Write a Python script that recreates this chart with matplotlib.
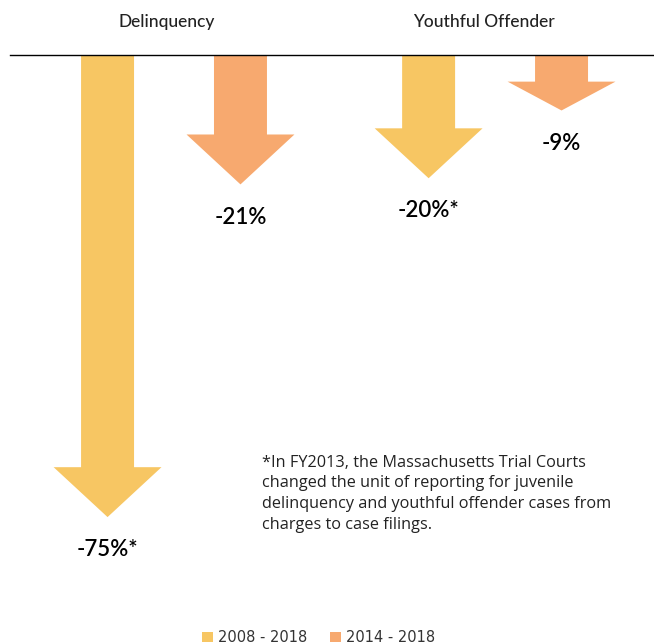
import matplotlib.pyplot as plt
from matplotlib.patches import Patch

# data
groups = ['Delinquency', 'Youthful Offender']
periods = ['2008 - 2018', '2014 - 2018']
changes = {
    '2008 - 2018': [-75, -20],
    '2014 - 2018': [-21, -9],
}
labels = {
    '2008 - 2018': ['-75%*', '-20%*'],
    '2014 - 2018': ['-21%', '-9%'],
}
colors = ['#F7C663', '#F7A96F']
note = ('*In FY2013, the Massachusetts Trial Courts\n'
        'changed the unit of reporting for juvenile\n'
        'delinquency and youthful offender cases from\n'
        'charges to case filings.')

plt.rcParams['font.family'] = ['Lato', 'DejaVu Sans']

fig = plt.figure(figsize=(6.54, 6.44), dpi=100)
ax = fig.add_axes([0, 0, 1, 1])
ax.set_xlim(-0.542, 1.495)
ax.set_ylim(-95.6, 8.93)
ax.axis('off')

offsets = [-0.207, 0.207]
shaft_w = 0.165
head_w = 0.336

for i, period in enumerate(periods):
    for g, val in enumerate(changes[period]):
        xc = g + offsets[i]
        hl = min(8.1, abs(val) * 0.52)
        ax.arrow(xc, 0, 0, val, width=shaft_w, head_width=head_w,
                 head_length=hl, length_includes_head=True,
                 color=colors[i], lw=0, zorder=2)
        ax.text(xc, val - 5.3, labels[period][g], ha='center', va='center',
                fontsize=16, fontweight='semibold', color='black', zorder=3)

ax.axhline(0, xmin=10/654, xmax=1, color='black', lw=1.0, zorder=3)

for g, name in enumerate(groups):
    ax.text(g - 0.022 * (1 - g) - 0.035 * g, 5.4, name, ha='center',
            va='center', fontsize=12.5, fontweight='medium', color='#222222')

ax.text(0.275, -64.9, note, ha='left', va='top', fontsize=11.7,
        family=['Open Sans', 'DejaVu Sans'], color='#222222', linespacing=1.38)

handles = [Patch(facecolor=c, edgecolor='none') for c in colors]
fig.legend(handles, periods, loc='lower center', bbox_to_anchor=(0.487, -0.022),
           ncol=2, frameon=False, handlelength=0.75, handleheight=0.75,
           handletextpad=0.3, columnspacing=1.6,
           prop={'family': 'DejaVu Sans', 'size': 10.5}, labelcolor='#333333')

fig.savefig('out.png', dpi=100)
